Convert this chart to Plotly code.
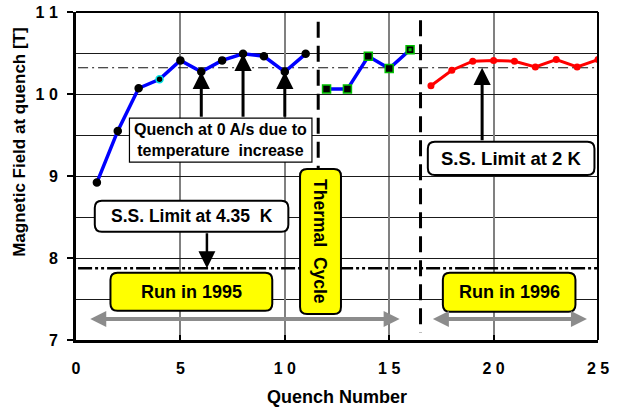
import plotly.graph_objects as go

# ---- data ----
q_1995 = [1, 2, 3, 4, 5, 6, 7, 8, 9, 10, 11]
b_1995 = [8.92, 9.55, 10.07, 10.18, 10.41, 10.27, 10.41, 10.49, 10.46, 10.27, 10.49]
q_tc = [12, 13, 14, 15, 16]
b_tc = [10.06, 10.06, 10.46, 10.31, 10.54]
q_1996 = [17, 18, 19, 20, 21, 22, 23, 24, 25]
b_1996 = [10.10, 10.29, 10.40, 10.41, 10.40, 10.33, 10.42, 10.33, 10.42]

x_tickvals = [0, 5, 10, 15, 20, 25]
x_ticktext = ["0", "5", "1 0", "1 5", "2 0", "2 5"]
y_tickvals = [7, 8, 9, 10, 11]
y_ticktext = ["7", "8", "9", "1 0", "1 1"]

ss_limit_2k = 10.32
ss_limit_435k = 7.875
thermal_cycle_x = 11.6
run_split_x = 16.5
quench_arrow_q = [6, 8, 10]

FONT = "Liberation Sans, Arial, sans-serif"

fig = go.Figure()

fig.add_trace(go.Scatter(
    x=q_1995, y=b_1995, mode="lines+markers",
    line=dict(color="#0000ff", width=3.5),
    marker=dict(symbol="circle", size=7, color="black",
                line=dict(color=["#00e5e5" if q == 4 else "black" for q in q_1995], width=1.5)),
    hoverinfo="skip"))
fig.add_trace(go.Scatter(
    x=q_tc, y=b_tc, mode="lines+markers",
    line=dict(color="#0000ff", width=3.5),
    marker=dict(symbol="square", size=8, color="black",
                line=dict(color="#00c000", width=1.5)),
    hoverinfo="skip"))
fig.add_trace(go.Scatter(
    x=[q_tc[-1]], y=[b_tc[-1]], mode="markers",
    marker=dict(symbol="square", size=3, color="#00c000"), hoverinfo="skip"))
fig.add_trace(go.Scatter(
    x=q_1996, y=b_1996, mode="lines+markers",
    line=dict(color="#ff0000", width=3),
    marker=dict(symbol="circle", size=7, color="#ff0000"),
    hoverinfo="skip"))

shapes = []
# reference lines
shapes.append(dict(type="line", xref="x", yref="y", x0=0.1, x1=25, y0=ss_limit_2k, y1=ss_limit_2k,
                   line=dict(color="#111111", width=1, dash="10px,4px,2px,4px"), layer="between"))
shapes.append(dict(type="line", xref="x", yref="y", x0=0.1, x1=25, y0=ss_limit_435k, y1=ss_limit_435k,
                   line=dict(color="black", width=2.5, dash="14px,3px,3px,3px,3px,3px"), layer="between"))
shapes.append(dict(type="line", xref="x", yref="y", x0=thermal_cycle_x, x1=thermal_cycle_x, y0=10.88, y1=9.0,
                   line=dict(color="black", width=3, dash="16px,8px"), layer="between"))
shapes.append(dict(type="line", xref="x", yref="y", x0=run_split_x, x1=run_split_x, y0=10.9, y1=7.09,
                   line=dict(color="black", width=3, dash="16px,8px"), layer="between"))
# top/right frame
shapes.append(dict(type="line", xref="paper", yref="paper", x0=0, x1=1, y0=1, y1=1,
                   line=dict(color="black", width=2), layer="above"))
shapes.append(dict(type="line", xref="paper", yref="paper", x0=1, x1=1, y0=0, y1=1,
                   line=dict(color="black", width=2), layer="above"))


def rrect(x0, x1, y0, y1, fill, width=2, r_px=7):
    rx = r_px / 20.9
    ry = r_px / 82.0
    p = (f"M{x0+rx},{y1} L{x1-rx},{y1} Q{x1},{y1} {x1},{y1-ry} "
         f"L{x1},{y0+ry} Q{x1},{y0} {x1-rx},{y0} L{x0+rx},{y0} Q{x0},{y0} {x0},{y0+ry} "
         f"L{x0},{y1-ry} Q{x0},{y1} {x0+rx},{y1} Z")
    return dict(type="path", xref="x", yref="y", path=p, fillcolor=fill,
                line=dict(color="black", width=width), layer="above")


# boxes
shapes.append(dict(type="rect", xref="x", yref="y", x0=2.56, x1=11.3, y0=9.17, y1=9.705,
                   fillcolor="white", line=dict(color="black", width=1.2), layer="above"))
shapes.append(rrect(16.85, 24.83, 9.011, 9.417, "white"))
shapes.append(rrect(0.90, 10.17, 8.32, 8.698, "white"))
shapes.append(rrect(1.65, 9.40, 7.358, 7.82, "#ffff00"))
shapes.append(rrect(17.57, 23.92, 7.346, 7.82, "#ffff00"))
shapes.append(rrect(10.73, 12.69, 7.318, 9.084, "#ffff00"))

ann = []


def txt(x, y, s, size=17, angle=0):
    return dict(x=x, y=y, xref="x", yref="y", text=f"<b>{s}</b>", showarrow=False,
                textangle=angle, xanchor="center", yanchor="middle",
                font=dict(family=FONT, size=size, color="black"))


ann.append(txt(6.93, 9.44, "Quench at 0 A/s due to<br>temperature\u00a0\u00a0increase", size=16))
ann.append(txt(20.84, 9.214, "S.S. Limit at 2 K", size=18.5))
ann.append(txt(5.535, 8.509, "S.S. Limit at 4.35\u00a0\u00a0K", size=17.5))
ann.append(txt(5.525, 7.589, "Run in 1995", size=18))
ann.append(txt(20.745, 7.583, "Run in 1996", size=18))
ann.append(txt(11.71, 8.20, "Thermal\u00a0 Cycle", size=17.5, angle=90))


def arrow(xt, yt, xs, ys, width, size, color="black", both=False):
    d = dict(x=xt, y=yt, ax=xs, ay=ys, xref="x", yref="y", axref="x", ayref="y",
             text="", showarrow=True, arrowhead=2, arrowwidth=width, arrowsize=size,
             arrowcolor=color, standoff=0, startstandoff=0)
    if both:
        d.update(arrowside="end+start", startarrowhead=2, startarrowsize=size)
    return d


for q in quench_arrow_q:
    ann.append(arrow(q, b_1995[q_1995.index(q)], q, 9.705, 3, 1.15))
ann.append(arrow(19.45, ss_limit_2k, 19.45, 9.417, 3, 1.15))
ann.append(arrow(6.27, ss_limit_435k, 6.27, 8.32, 2.5, 1.35))
ann.append(arrow(15.5, 7.257, 0.61, 7.257, 4, 0.8, color="#8c8c8c", both=True))
ann.append(arrow(24.47, 7.257, 17.02, 7.257, 4, 0.8, color="#8c8c8c", both=True))

# axis titles as annotations (y title offset upward like the original)
ann.append(dict(x=-0.108, y=0.603, xref="paper", yref="paper",
                text="<b>Magnetic Field at quench [T]</b>", showarrow=False, textangle=-90,
                xanchor="center", yanchor="middle",
                font=dict(family=FONT, size=17, color="black")))
ann.append(dict(x=0.5, y=-0.175, xref="paper", yref="paper",
                text="<b>Quench Number</b>", showarrow=False,
                xanchor="center", yanchor="middle",
                font=dict(family=FONT, size=18, color="black")))

fig.update_layout(
    width=629, height=407,
    margin=dict(l=76, r=31, t=12, b=67, autoexpand=False),
    paper_bgcolor="white", plot_bgcolor="white",
    showlegend=False,
    shapes=shapes, annotations=ann,
    font=dict(family=FONT, color="black"),
)
fig.update_xaxes(
    range=[0, 25], tickvals=x_tickvals, ticktext=x_ticktext,
    showgrid=True, gridcolor="#808080", gridwidth=1.5,
    showline=True, linecolor="black", linewidth=3,
    ticks="inside", ticklen=5, tickwidth=2, tickcolor="black",
    ticklabelstandoff=12,
    tickfont=dict(family=FONT, size=16, color="black", weight="bold"),
    automargin=False, zeroline=False, fixedrange=True,
)
fig.update_yaxes(
    range=[7, 11], tickvals=y_tickvals, ticktext=y_ticktext,
    showgrid=True, gridcolor="#1a1a1a", gridwidth=1,
    minor=dict(dtick=0.5, showgrid=True, gridcolor="#1a1a1a", gridwidth=1, ticks=""),
    showline=True, linecolor="black", linewidth=3,
    ticks="outside", ticklen=6, tickwidth=2, tickcolor="black",
    ticklabelstandoff=6,
    tickfont=dict(family=FONT, size=16, color="black", weight="bold"),
    automargin=False, zeroline=False, fixedrange=True,
)

fig.write_html("out.html")
